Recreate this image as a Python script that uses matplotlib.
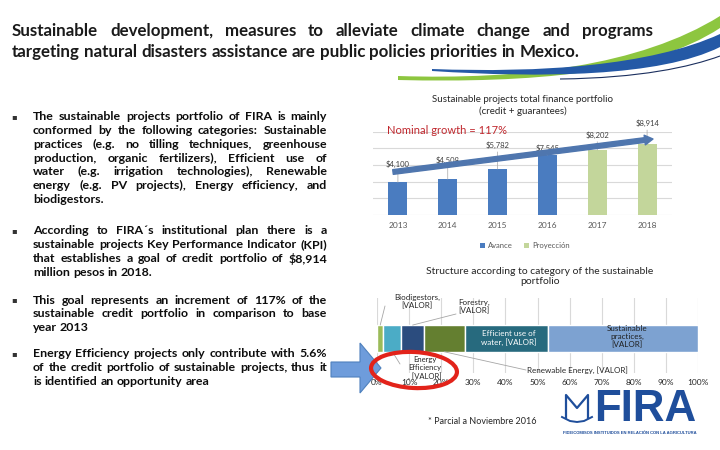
import matplotlib
matplotlib.use('Agg')
import matplotlib.pyplot as plt
import numpy as np
from matplotlib.transforms import Affine2D
from matplotlib.patches import Ellipse, Polygon, PathPatch, FancyArrowPatch
from matplotlib.path import Path
from matplotlib.font_manager import FontProperties, findfont
from matplotlib.lines import Line2D

# ---------------- data ----------------
title_lines = [
    "Sustainable development, measures to alleviate climate change and programs",
    "targeting natural disasters assistance are public policies priorities in Mexico.",
]
bullets = [
    ["The sustainable projects portfolio of FIRA is mainly",
     "conformed by the following categories: Sustainable",
     "practices (e.g. no tilling techniques, greenhouse",
     "production, organic fertilizers), Efficient use of",
     "water (e.g. irrigation technologies), Renewable",
     "energy (e.g. PV projects), Energy efficiency, and",
     "biodigestors."],
    ["According to FIRA´s institutional plan there is a",
     "sustainable projects Key Performance Indicator (KPI)",
     "that establishes a goal of credit portfolio of $8,914",
     "million pesos in 2018."],
    ["This goal represents an increment of 117% of the",
     "sustainable credit portfolio in comparison to base",
     "year 2013"],
    ["Energy Efficiency projects only contribute with 5.6%",
     "of the credit portfolio of sustainable projects, thus it",
     "is identified an opportunity area"],
]

years = ['2013', '2014', '2015', '2016', '2017', '2018']
portfolio = [4100, 4508, 5782, 7545, 8202, 8914]
status = ['Avance', 'Avance', 'Avance', 'Avance', 'Proyección', 'Proyección']
value_labels = ['$4,100', '$4,508', '$5,782', '$7,545', '$8,202', '$8,914']
bar_chart_title = 'Sustainable projects total finance portfolio\n(credit + guarantees)'
growth_note = 'Nominal growth = 117%'

categories = ['Biodigestors', 'Energy Efficiency', 'Forestry', 'Renewable Energy',
              'Efficient use of water', 'Sustainable practices']
shares = [2.0, 5.6, 7.0, 12.7, 25.9, 46.8]
segment_labels = ['Biodigestors,\n[VALOR]', 'Energy\nEfficiency\n, [VALOR]', 'Forestry,\n[VALOR]',
                  'Renewable Energy, [VALOR]', 'Efficient use of\nwater, [VALOR]',
                  'Sustainable\npractices,\n[VALOR]']
pct_ticks = list(range(0, 101, 10))
pct_labels = [f'{p}%' for p in pct_ticks]
structure_title = 'Structure according to category of the sustainable\nportfolio'
footnote = '* Parcial a Noviembre 2016'
logo_text = 'FIRA'
logo_sub = 'FIDEICOMISOS INSTITUIDOS EN RELACIÓN CON LA AGRICULTURA'

# ---------------- fonts ----------------
def pick(fams):
    for f in fams:
        try:
            findfont(FontProperties(family=f), fallback_to_default=False)
            return f
        except Exception:
            pass
    return 'DejaVu Sans'

BODY = pick(['Liberation Sans Narrow', 'Lato', 'DejaVu Sans'])
CHART = pick(['Lato', 'Open Sans', 'DejaVu Sans'])
LOGO = pick(['Liberation Sans Narrow', 'Liberation Sans', 'DejaVu Sans'])
plt.rcParams['font.family'] = [CHART, 'DejaVu Sans']

W, H = 720, 450
fig = plt.figure(figsize=(7.2, 4.5), dpi=100)
fig.patch.set_facecolor('white')
PX = Affine2D().scale(1 / W, -1 / H).translate(0, 1) + fig.transFigure
renderer = fig.canvas.get_renderer()


def esc(s):
    # a single dollar sign never triggers mathtext; escape only when needed
    return s.replace('$', r'\$') if s.count('$') > 1 else s


def width(s, fp):
    return renderer.get_text_width_height_descent(s, fp, ismath=False)[0]


def text_block(lines_, x0, x1, ys, fp, color):
    space = width('a a', fp) - width('aa', fp)
    for i, (line, y) in enumerate(zip(lines_, ys)):
        words = line.split(' ')
        ws = [width(w, fp) for w in words]
        last = i == len(lines_) - 1
        if not last and len(words) > 1:
            gap = (x1 - x0 - sum(ws)) / (len(words) - 1)
        else:
            gap = space
        x = x0
        for w, wd in zip(words, ws):
            fig.text(x, y, esc(w), transform=PX, fontproperties=fp, color=color,
                     ha='left', va='center')
            x += wd + gap


# ---------------- decorative swoosh ----------------
def band(upper, lower, color, z=1):
    verts = list(upper) + list(lower) + [upper[0]]
    codes = ([Path.MOVETO] + [Path.CURVE4] * 3 + [Path.LINETO] + [Path.CURVE4] * 3
             + [Path.CLOSEPOLY])
    fig.add_artist(PathPatch(Path(verts, codes), transform=PX, facecolor=color,
                             edgecolor='none', zorder=z))

band([(398, 76), (520, 80), (640, 66), (720, 16)],
     [(720, 28), (650, 74), (530, 83), (398, 80)], '#8DC63F')
band([(432, 69), (540, 73), (650, 66), (720, 34)],
     [(720, 47), (660, 77), (540, 78), (432, 71)], '#2459A6')
fig.add_artist(PathPatch(Path([(560, 79), (640, 78), (690, 67), (720, 56)],
                              [Path.MOVETO] + [Path.CURVE4] * 3),
                         transform=PX, facecolor='none', edgecolor='#1B2F5E', lw=0.8))

# ---------------- title ----------------
fp_t = FontProperties(family=BODY, weight='bold', size=10)
tsize = 10 * 571 / width(title_lines[1], fp_t)
fp_t = FontProperties(family=BODY, weight='bold', size=tsize)
text_block(title_lines, 12, 653, [31, 52], fp_t, '#1A1A1A')

# ---------------- bullets ----------------
fp_b = FontProperties(family=BODY, weight='bold', size=10)
maxnat = max(width(l, fp_b) for p in bullets for l in p[:-1])
bsize = min(10.0, 10 * 292 / maxnat)
fp_b = FontProperties(family=BODY, weight='bold', size=bsize)
para_y0 = [116.7, 231.0, 300.0, 353.5]
pitch = 13.8
for p, y0 in zip(bullets, para_y0):
    ys = [y0 + pitch * k for k in range(len(p))]
    text_block(p, 33, 327, ys, fp_b, '#0D0D0D')
    fig.text(14, y0, '▪', transform=PX, fontsize=6, family='DejaVu Sans',
             color='#333333', ha='center', va='center')

# ---------------- bar chart ----------------
ax1 = fig.add_axes([373 / W, 1 - 215 / H, 299 / W, 83.3 / H])
x = np.arange(len(years))
bar_col = {'Avance': '#4A7CC0', 'Proyección': '#C3D69B'}
for s in ['Avance', 'Proyección']:
    idx = [i for i, t in enumerate(status) if t == s]
    ax1.bar(x[idx], [portfolio[i] for i in idx], width=0.38, color=bar_col[s],
            label=s, zorder=2)
ax1.set_xlim(-0.5, 5.5)
ax1.set_ylim(0, 10500)
ax1.set_yticks(np.linspace(0, 10500, 6))
ax1.set_yticklabels([])
ax1.tick_params(axis='y', length=0)
ax1.grid(axis='y', color='#D9D9D9', lw=0.8)
ax1.set_axisbelow(True)
for sp in ax1.spines.values():
    sp.set_visible(False)
ax1.set_xticks(x, years)
ax1.tick_params(axis='x', length=0, pad=5, labelsize=6, labelcolor='#595959')

label_offsets = [14, 15, 20, 3, 11, 17]
for i, (v, lab, off) in enumerate(zip(portfolio, value_labels, label_offsets)):
    ax1.annotate(esc(lab), xy=(i, v), xytext=(0, off), textcoords='offset pixels',
                 ha='center', va='bottom', fontsize=5.5, color='#404040',
                 arrowprops=dict(arrowstyle='-', color='#A6A6A6', lw=0.5,
                                 shrinkA=0, shrinkB=0))

fig.add_artist(FancyArrowPatch((393, 172), (653, 139), transform=PX,
                               arrowstyle='simple,head_width=7,head_length=6,tail_width=3.4',
                               mutation_scale=1, color='#4F76AE', shrinkA=0, shrinkB=0,
                               zorder=5))
fig.text(387, 131, growth_note, transform=PX, color='#C0272D', fontsize=8,
         ha='left', va='center')
fig.text(523, 105.5, bar_chart_title, transform=PX, ha='center', va='center',
         fontsize=7, linespacing=1.25, color='#262626')
h1, l1 = ax1.get_legend_handles_labels()
fig.legend(h1, l1, loc='center', bbox_to_anchor=(525 / W, 1 - 246 / H), ncol=2,
           frameon=False, fontsize=5.5, handlelength=0.6, handleheight=0.6,
           columnspacing=1.5, handletextpad=0.4, labelcolor='#595959')

# ---------------- structure chart ----------------
fig.text(540, 276.5, structure_title, transform=PX, ha='center', va='center',
         fontsize=7.5, linespacing=1.25, color='#262626')
ax2 = fig.add_axes([377 / W, 1 - 373 / H, 321 / W, 75 / H])
seg_colors = ['#9BBB59', '#4BACC6', '#2B4C7E', '#647F30', '#276A7E', '#7DA2D1']
bar_y, bar_h = 0.461, 0.356
cum = np.concatenate([[0], np.cumsum(shares)])
mids = (cum[:-1] + cum[1:]) / 2
for s, lft, c in zip(shares, cum[:-1], seg_colors):
    ax2.barh(bar_y, s, left=lft, height=bar_h, color=c, edgecolor='white', lw=1, zorder=2)
ax2.set_xlim(0, 100)
ax2.set_ylim(0, 1)
ax2.set_xticks(pct_ticks, pct_labels)
ax2.set_yticks([])
ax2.grid(axis='x', color='#D9D9D9', lw=0.8)
ax2.set_axisbelow(True)
for sp in ax2.spines.values():
    sp.set_visible(False)
ax2.tick_params(axis='x', length=0, pad=4, labelsize=6, labelcolor='#262626')

top, bot = bar_y + bar_h / 2, bar_y - bar_h / 2
leaders = [(0, top, (385, 306)), (2, top, (456, 314)), (1, bot, (400, 364)), (3, bot, (526, 370))]
for k, yy, pt in leaders:
    ax2.annotate('', xy=(mids[k], yy), xycoords='data', xytext=pt, textcoords=PX,
                 arrowprops=dict(arrowstyle='-', color='#A6A6A6', lw=0.6, shrinkA=0, shrinkB=0))

seg_text_pos = [(417, 302, 'center', '#262626', 5.8), (425, 368, 'center', '#262626', 5.5),
                (474, 307, 'center', '#262626', 5.8), (527, 370, 'left', '#262626', 5.8),
                (509, 338, 'center', 'white', 5.8), (627, 337, 'center', '#1F1F1F', 5.8)]
for lab, (tx, ty, ha, c, fs) in zip(segment_labels, seg_text_pos):
    fig.text(tx, ty, lab, transform=PX, ha=ha, va='center', fontsize=fs,
             linespacing=1.15, color=c, zorder=4)

# highlight ellipse and block arrow
fig.add_artist(Ellipse((414, 370), 86, 36, angle=3, transform=PX, fill=False,
                       ec='#E2231A', lw=3, zorder=10))
fig.add_artist(Polygon([(331, 362), (360, 362), (360, 343), (381, 368), (360, 393),
                        (360, 377), (331, 377)], closed=True, transform=PX,
                       facecolor='#6E9CDB', edgecolor='#4F81BD', lw=0.8, zorder=9))

fig.text(482, 421, footnote, transform=PX, ha='center', va='center', fontsize=6.5,
         color='#262626')

# ---------------- logo ----------------
navy = '#1F4E9B'
fp_l = FontProperties(family=LOGO, weight='bold', size=30)
lsize = 30 * 102 / width(logo_text, fp_l)
fig.text(594, 421, logo_text, transform=PX, ha='left', va='baseline',
         fontproperties=FontProperties(family=LOGO, weight='bold', size=lsize), color=navy)
fig.add_artist(Line2D([566, 566, 577, 588, 588], [418, 395, 408, 395, 418], transform=PX,
                      color=navy, lw=1.6))
fig.add_artist(Line2D([562, 570, 577, 584, 592], [417, 421, 422, 421, 417], transform=PX,
                      color=navy, lw=1.4))
fp_s = FontProperties(family=LOGO, weight='bold', size=3)
ssize = 3 * 134 / width(logo_sub, fp_s)
fig.text(563, 433, logo_sub, transform=PX, ha='left', va='center',
         fontproperties=FontProperties(family=LOGO, weight='bold', size=ssize), color=navy)

fig.savefig('out.png', dpi=100, facecolor='white')
